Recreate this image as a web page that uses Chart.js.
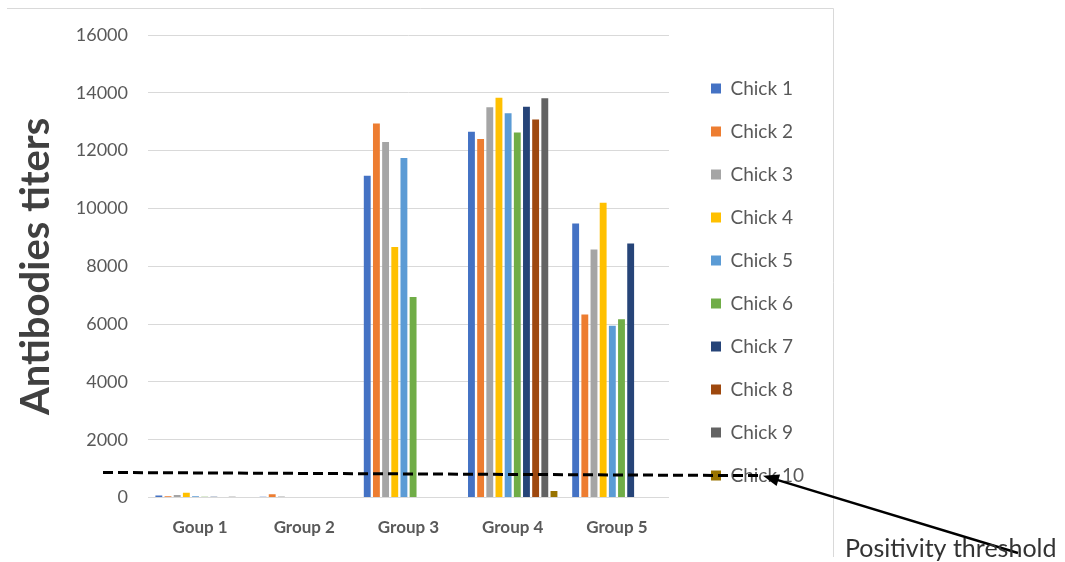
<!DOCTYPE html>
<html lang="en">
<head>
  <meta charset="UTF-8" />
  <title>Antibodies titers</title>
  <style>
    body { margin: 0; background: #fff; }
    #wrap { position: relative; width: 1065px; height: 562px; }
  </style>
  <script src="https://cdn.jsdelivr.net/npm/chart.js"></script>
</head>
<body>
  <div id="wrap"><canvas id="chart" width="1065" height="562"></canvas></div>
  <script>
    const groups = ["Goup 1", "Group 2", "Group 3", "Group 4", "Group 5"];
    const chick1 = [70, 30, 11130, 12650, 9480];
    const chick2 = [50, 120, 12940, 12400, 6330];
    const chick3 = [90, 40, 12300, 13500, 8580];
    const chick4 = [170, 0, 8670, 13830, 10200];
    const chick5 = [50, 0, 11750, 13290, 5940];
    const chick6 = [30, 0, 6940, 12630, 6170];
    const chick7 = [30, 0, 0, 13520, 8790];
    const chick8 = [20, 0, 0, 13080, 0];
    const chick9 = [30, 0, 0, 13810, 0];
    const chick10 = [20, 0, 0, 230, 0];
    const yTicks = [0, 2000, 4000, 6000, 8000, 10000, 12000, 14000, 16000];
    const threshold = [870, 760]; // dashed line value at its left and right end

    const seriesNames = ["Chick 1", "Chick 2", "Chick 3", "Chick 4", "Chick 5",
                         "Chick 6", "Chick 7", "Chick 8", "Chick 9", "Chick 10"];
    const seriesData = [chick1, chick2, chick3, chick4, chick5, chick6, chick7, chick8, chick9, chick10];
    const colors = ["#4472C4", "#ED7D31", "#A5A5A5", "#FFC000", "#5B9BD5",
                    "#70AD47", "#264478", "#9E480E", "#636363", "#997300"];

    const FONT = "Lato, 'Open Sans', sans-serif";

    // frame, threshold line, arrow and note
    const extras = {
      id: "extras",
      beforeDraw(chart) {
        const c = chart.ctx;
        c.save();
        c.fillStyle = "#fff";
        c.fillRect(0, 0, chart.width, chart.height);
        c.strokeStyle = "#d9d9d9";
        c.lineWidth = 1;
        c.beginPath();
        c.moveTo(7, 8.5);
        c.lineTo(833.5, 8.5);
        c.lineTo(833.5, 557);
        c.stroke();
        c.restore();
      },
      afterDraw(chart) {
        const c = chart.ctx;
        const y = chart.scales.y;
        const y0 = y.getPixelForValue(threshold[0]);
        const y1 = y.getPixelForValue(threshold[1]);
        c.save();
        c.strokeStyle = "#000";
        c.lineWidth = 3;
        c.setLineDash([10, 5]);
        c.beginPath();
        c.moveTo(103, y0);
        c.lineTo(760, y1);
        c.stroke();
        c.setLineDash([]);
        // arrow
        const hx = 763, hy = y1, tx = 1018, ty = 553;
        c.lineWidth = 2.5;
        c.beginPath();
        c.moveTo(tx, ty);
        c.lineTo(hx + 10, hy + 3);
        c.stroke();
        const ang = Math.atan2(ty - hy, tx - hx);
        c.fillStyle = "#000";
        c.beginPath();
        c.moveTo(hx, hy);
        c.lineTo(hx + 16 * Math.cos(ang) - 6 * Math.sin(ang), hy + 16 * Math.sin(ang) + 6 * Math.cos(ang));
        c.lineTo(hx + 16 * Math.cos(ang) + 6 * Math.sin(ang), hy + 16 * Math.sin(ang) - 6 * Math.cos(ang));
        c.closePath();
        c.fill();
        c.fillStyle = "#333";
        c.font = "25px " + FONT;
        c.textBaseline = "alphabetic";
        c.fillText("Positivity threshold", 845, 557);
        c.restore();
      }
    };

    new Chart(document.getElementById("chart"), {
      type: "bar",
      data: {
        labels: groups,
        datasets: seriesNames.map((name, i) => ({
          label: name,
          data: seriesData[i],
          backgroundColor: colors[i],
          categoryPercentage: 0.88,
          barPercentage: 0.75
        }))
      },
      options: {
        responsive: false,
        animation: false,
        layout: { padding: { left: 0, top: 35, right: 251, bottom: 12 } },
        plugins: {
          tooltip: { enabled: false },
          legend: {
            position: "right",
            align: "start",
            title: { display: true, text: "", font: { size: 10, lineHeight: 1 }, padding: { top: 4, bottom: 6 } },
            labels: {
              boxWidth: 10,
              boxHeight: 10,
              padding: 24,
              color: "#595959",
              font: { family: FONT, size: 19 }
            }
          }
        },
        scales: {
          x: {
            grid: { display: false },
            border: { display: false },
            ticks: { color: "#595959", font: { family: FONT, size: 17, weight: "bold" }, padding: 12 }
          },
          y: {
            min: 0,
            max: 16000,
            afterBuildTicks: axis => { axis.ticks = yTicks.map(v => ({ value: v })); },
            afterFit: s => { s.width = 148; },
            grid: { color: "#d9d9d9", drawTicks: false },
            border: { display: false },
            ticks: { color: "#595959", font: { family: FONT, size: 18 }, padding: 20, callback: v => String(v) },
            title: {
              display: true,
              text: "Antibodies titers",
              color: "#404040",
              font: { family: FONT, size: 40, weight: "bold", lineHeight: 1 },
              padding: { top: 16, bottom: 0 }
            }
          },
          // empty spacer between plot and legend
          gap: {
            position: "right",
            grid: { display: false },
            border: { display: false },
            ticks: { display: false },
            afterFit: s => { s.width = 18; }
          }
        }
      },
      plugins: [extras]
    });
  </script>
</body>
</html>
